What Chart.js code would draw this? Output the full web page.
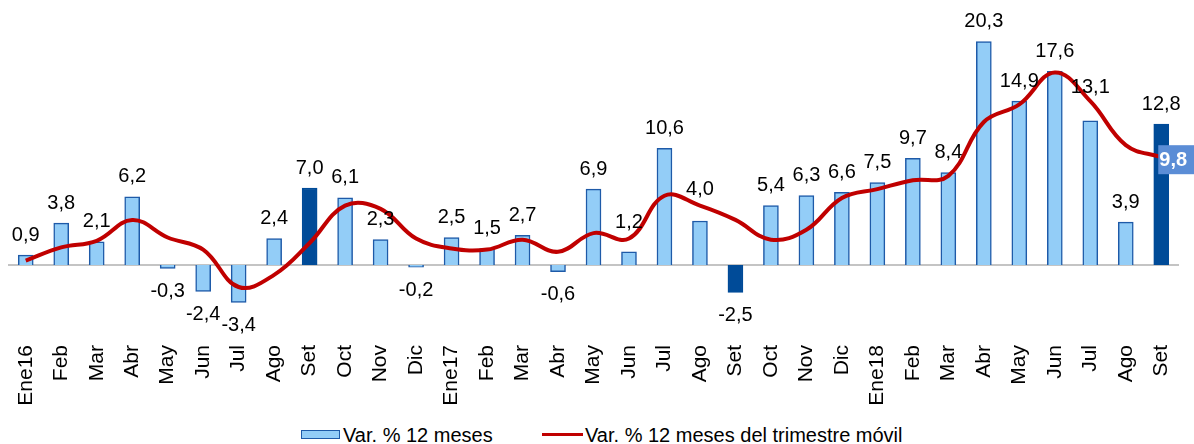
<!DOCTYPE html>
<html>
<head>
<meta charset="utf-8">
<script src="https://cdn.jsdelivr.net/npm/chart.js@4"></script>
<style>
  html, body { margin: 0; padding: 0; background: #fff; }
  #wrap { position: relative; width: 1194px; height: 444px; overflow: hidden; font-family: "Liberation Sans", Arial, sans-serif; }
  #c { position: absolute; left: 0; top: 0; }
  .lg { position: absolute; font-size: 20px; line-height: 20px; color: #000; white-space: nowrap; }
</style>
</head>
<body>
<div id="wrap">
  <canvas id="c" width="1194" height="422"></canvas>
  <div style="position:absolute;left:301px;top:430px;width:37px;height:7px;background:#93CDF7;border:1.5px solid #1E5AA8;"></div>
  <div class="lg" style="left:343px;top:425px;">Var. % 12 meses</div>
  <div style="position:absolute;left:542px;top:433px;width:41px;height:3px;background:#C00000;"></div>
  <div class="lg" style="left:585px;top:425px;">Var. % 12 meses del trimestre móvil</div>
</div>
<script>
const categories = ['Ene16','Feb','Mar','Abr','May','Jun','Jul','Ago','Set','Oct','Nov','Dic',
                    'Ene17','Feb','Mar','Abr','May','Jun','Jul','Ago','Set','Oct','Nov','Dic',
                    'Ene18','Feb','Mar','Abr','May','Jun','Jul','Ago','Set'];
const var12 = [0.9,3.8,2.1,6.2,-0.3,-2.4,-3.4,2.4,7.0,6.1,2.3,-0.2,
               2.5,1.5,2.7,-0.6,6.9,1.2,10.6,4.0,-2.5,5.4,6.3,6.6,
               7.5,9.7,8.4,20.3,14.9,17.6,13.1,3.9,12.8];
const trimMovil = [0.4,1.6,2.2,4.1,2.5,1.4,-2.0,-0.9,2.0,5.4,5.1,2.4,
                   1.5,1.4,2.3,1.2,2.9,2.4,6.3,5.4,4.1,2.3,3.2,6.1,
                   6.9,7.7,8.1,13.0,14.6,17.5,14.9,10.9,9.8];
const highlightIdx = [8, 20, 32];

const LIGHT = '#93CDF7', LIGHT_B = '#1E5AA8', DARK = '#004B98';
const fmt = v => v.toFixed(1).replace('.', ',');
const FONT = '"Liberation Sans", Arial, sans-serif';

const labelShift = {17: 9, 19: 12, 30: 13};

const zeroLine = {
  id: 'zeroLine',
  beforeDatasetsDraw(chart) {
    const ctx = chart.ctx, a = chart.chartArea, y = chart.scales.y.getPixelForValue(0);
    ctx.save();
    ctx.strokeStyle = '#C4C4C4';
    ctx.lineWidth = 2;
    ctx.beginPath(); ctx.moveTo(a.left, y); ctx.lineTo(a.right, y); ctx.stroke();
    ctx.restore();
  }
};

const labels = {
  id: 'labels',
  afterDatasetsDraw(chart) {
    const ctx = chart.ctx;
    const meta = chart.getDatasetMeta(0);
    ctx.save();
    ctx.font = '20px ' + FONT;
    ctx.fillStyle = '#000';
    ctx.textAlign = 'center';
    ctx.textBaseline = 'middle';
    meta.data.forEach((el, i) => {
      const v = var12[i];
      let y;
      if (v >= 0) y = el.y - 20 - (labelShift[i] || 0);
      else y = el.y + 23;
      ctx.fillText(fmt(v), el.x, y);
    });
    const lm = chart.getDatasetMeta(1);
    const last = lm.data[lm.data.length - 1];
    const bx = last.x - 3, by = last.y - 12;
    ctx.fillStyle = '#5B8DD6';
    ctx.fillRect(bx, by, 40, 29);
    ctx.fillStyle = '#fff';
    ctx.font = 'bold 20px ' + FONT;
    ctx.textAlign = 'left';
    ctx.fillText(fmt(trimMovil[trimMovil.length - 1]), bx + 1, by + 15);
    ctx.restore();
  }
};

new Chart(document.getElementById('c'), {
  data: {
    labels: categories,
    datasets: [
      {
        type: 'bar',
        label: 'Var. % 12 meses',
        data: var12,
        backgroundColor: var12.map((v, i) => highlightIdx.includes(i) ? DARK : LIGHT),
        borderColor: var12.map((v, i) => highlightIdx.includes(i) ? DARK : LIGHT_B),
        borderWidth: 1.5,
        barThickness: 15,
        order: 2
      },
      {
        type: 'line',
        label: 'Var. % 12 meses del trimestre móvil',
        data: trimMovil,
        borderColor: '#C00000',
        borderWidth: 4,
        pointRadius: 0,
        tension: 0.4,
        fill: false,
        order: 1
      }
    ]
  },
  options: {
    responsive: false,
    animation: false,
    devicePixelRatio: 1,
    layout: { padding: { left: 8, right: 15, top: 23, bottom: 0 } },
    plugins: { legend: { display: false }, tooltip: { enabled: false } },
    scales: {
      x: {
        offset: true,
        grid: { display: false, drawTicks: false },
        border: { display: false },
        ticks: {
          maxRotation: 90, minRotation: 90, padding: 3, autoSkip: false,
          color: '#000', font: { family: FONT, size: 21 }
        },
        afterFit(scale) { scale.height = 80; }
      },
      y: {
        display: false,
        min: -7, max: 22
      }
    }
  },
  plugins: [zeroLine, labels]
});
</script>
</body>
</html>
